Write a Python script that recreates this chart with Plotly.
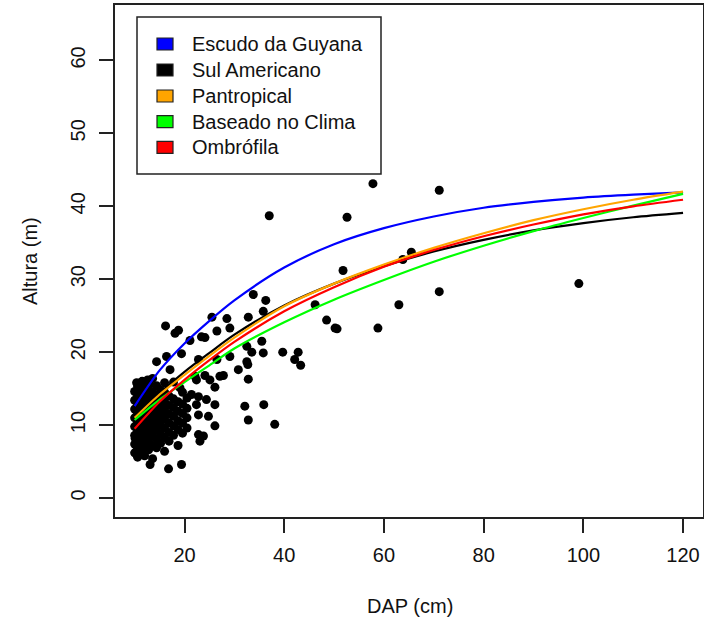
import plotly.graph_objects as go

# ---------------- data ----------------
# curve sample diameters (cm)
curve_dap = [10, 15, 20, 25, 30, 40, 50, 60, 70, 80, 90, 100, 110, 120]
escudo_guyana = [12.6, 17.5, 21.2, 24.3, 27.1, 31.6, 34.8, 37.0, 38.6, 39.8, 40.6, 41.2, 41.6, 41.9]
sul_americano = [11.2, 14.4, 17.3, 19.9, 22.4, 26.4, 29.4, 31.8, 33.8, 35.4, 36.7, 37.7, 38.5, 39.1]
pantropical = [11.0, 14.2, 16.9, 19.5, 22.0, 26.3, 29.4, 32.0, 34.3, 36.3, 38.1, 39.6, 40.9, 42.0]
baseado_clima = [10.7, 13.5, 15.9, 18.2, 20.5, 24.1, 27.2, 29.9, 32.4, 34.6, 36.6, 38.4, 40.1, 41.7]
ombrofila = [9.5, 13.2, 16.2, 18.9, 21.4, 25.6, 28.9, 31.7, 34.0, 35.9, 37.5, 38.9, 40.0, 40.9]

# observed trees: DAP (cm) and height (m)
dap_obs = [
    57.8, 71.1, 37.0, 52.6, 51.8, 65.5, 63.8, 71.1, 99.1, 36.3, 35.8, 46.2, 63.0, 48.5,
    50.2, 50.6, 58.8, 35.5, 35.8, 39.7, 42.8, 42.1, 43.3, 35.9, 38.1, 33.8,
    25.5, 28.5, 32.8, 23.4, 24.1, 26.5, 29.1, 22.8, 26.5, 29.1, 32.5, 33.5,
    32.5, 32.7, 30.8, 32.8, 22.1, 24.1, 25.1, 27.1, 27.8, 26.1, 22.8, 24.4,
    26.1, 32.1, 32.8, 22.8, 24.8, 26.1, 22.8, 23.8, 23.1,
    16.2, 18.1, 18.8, 21.1, 16.4, 19.4, 14.4, 17.1, 22.4, 11.4, 12.7,
    21.4, 22.4, 19.1, 13.1, 16.8, 19.4, 10.4, 10.1,
    10.4, 11.5, 12.6, 13.0,
    10.0, 10.0, 10.0, 10.0, 10.0, 10.0, 10.0, 10.0,
    10.6, 10.6, 10.6, 10.6, 10.6, 10.6, 10.6, 10.6, 10.6,
    11.3, 11.3, 11.3, 11.3, 11.3, 11.3, 11.3, 11.3,
    12.0, 12.0, 12.0, 12.0, 12.0, 12.0, 12.0, 12.0, 12.0,
    12.8, 12.8, 12.8, 12.8, 12.8, 12.8, 12.8, 12.8,
    13.6, 13.6, 13.6, 13.6, 13.6, 13.6, 13.6, 13.6, 13.6,
    14.4, 14.4, 14.4, 14.4, 14.4, 14.4, 14.4, 14.4,
    15.2, 15.2, 15.2, 15.2, 15.2, 15.2, 15.2,
    16.0, 16.0, 16.0, 16.0, 16.0, 16.0, 16.0, 16.0,
    16.9, 16.9, 16.9, 16.9, 16.9, 16.9,
    17.8, 17.8, 17.8, 17.8, 17.8, 17.8,
    18.7, 18.7, 18.7, 18.7, 18.7,
    19.6, 19.6, 19.6, 19.6, 19.6,
    20.5, 20.5, 20.5, 20.5,
]
altura_obs = [
    43.1, 42.2, 38.7, 38.5, 31.2, 33.7, 32.7, 28.3, 29.4, 27.1, 25.6, 26.5, 26.5, 24.4,
    23.3, 23.2, 23.3, 21.5, 19.9, 20.0, 20.0, 19.0, 18.2, 12.8, 10.1, 27.9,
    24.8, 24.6, 24.8, 22.1, 22.0, 22.9, 23.3, 19.0, 19.0, 19.4, 20.8, 20.0,
    18.7, 18.3, 17.6, 16.3, 16.7, 16.8, 16.2, 16.7, 16.8, 15.2, 13.9, 13.5,
    12.8, 12.6, 10.7, 11.4, 11.2, 9.9, 8.7, 8.5, 7.8,
    23.6, 22.6, 23.0, 21.6, 19.4, 19.8, 18.7, 17.6, 16.2, 15.5, 15.4,
    14.2, 12.8, 15.1, 4.6, 4.0, 4.6, 6.0, 8.2,
    15.8, 16.0, 16.2, 15.6,
    6.2, 7.4, 8.6, 9.8, 11.0, 12.2, 13.4, 14.6,
    5.6, 6.8, 8.0, 9.2, 10.4, 11.6, 12.8, 14.0, 15.3,
    6.3, 7.5, 8.7, 9.9, 11.1, 12.3, 13.5, 14.7,
    5.8, 7.0, 8.2, 9.5, 10.7, 11.9, 13.1, 14.3, 15.8,
    6.6, 7.8, 9.0, 10.2, 11.4, 12.6, 13.8, 14.9,
    5.4, 7.2, 8.5, 9.7, 10.9, 12.1, 13.3, 14.5, 16.4,
    6.9, 8.1, 9.3, 10.5, 11.7, 12.9, 14.1, 15.4,
    7.5, 8.8, 10.0, 11.2, 12.4, 13.6, 14.8,
    6.4, 8.3, 9.6, 10.8, 12.0, 13.2, 14.5, 15.8,
    7.8, 9.0, 10.3, 11.5, 12.7, 14.0,
    8.6, 9.9, 11.2, 12.4, 13.6, 15.9,
    7.2, 9.4, 10.6, 11.9, 13.2,
    8.9, 10.3, 11.6, 12.9, 14.5,
    9.6, 11.0, 12.3, 13.7,
]

legend_labels = ["Escudo da Guyana", "Sul Americano", "Pantropical", "Baseado no Clima", "Ombrófila"]
legend_colors = ["#0000FF", "#000000", "#FFA500", "#00FF00", "#FF0000"]
curve_values = [escudo_guyana, sul_americano, pantropical, baseado_clima, ombrofila]

x_ticks = [20, 40, 60, 80, 100, 120]
y_ticks = [0, 10, 20, 30, 40, 50, 60]

# ---------------- figure ----------------
W, H = 704, 621
L, R, T, B = 115, 1, 5, 104
PW, PH = W - L - R, H - T - B
FONT = "Liberation Sans, Arial, sans-serif"


def px(x):
    return (x - L) / PW


def py(y):
    return (H - B - y) / PH


fig = go.Figure()
fig.add_trace(go.Scatter(
    x=dap_obs, y=altura_obs, mode="markers",
    marker=dict(color="black", size=9, line=dict(width=0)),
    showlegend=False, hoverinfo="x+y",
))
for name, col, vals in zip(legend_labels, legend_colors, curve_values):
    fig.add_trace(go.Scatter(
        x=curve_dap, y=vals, mode="lines", name=name,
        line=dict(color=col, width=2.2, shape="spline", smoothing=0.8),
        showlegend=False,
    ))

axis_common = dict(
    showgrid=False, zeroline=False, showline=True, mirror=True,
    linecolor="#222", linewidth=1.5, ticks="outside", ticklen=14,
    tickwidth=1.5, tickcolor="#222",
    tickfont=dict(family=FONT, size=20, color="#111"),
)
fig.update_xaxes(range=[6.06, 124.0], tickvals=x_ticks, ticklabelstandoff=5, **axis_common)
fig.update_yaxes(range=[-2.6, 67.6], tickvals=y_ticks, tickangle=-90, ticklabelstandoff=6, **axis_common)

shapes = []
annotations = []
# legend box
shapes.append(dict(type="rect", xref="paper", yref="paper",
                   x0=px(137), x1=px(381), y0=py(174), y1=py(17),
                   line=dict(color="#222", width=1.5), fillcolor="white"))
row_y = [44, 70, 96, 121.7, 147.3]
for lab, col, ry in zip(legend_labels, legend_colors, row_y):
    shapes.append(dict(type="rect", xref="paper", yref="paper",
                       x0=px(157), x1=px(173), y0=py(ry + 6), y1=py(ry - 6),
                       line=dict(color="#222", width=1.2), fillcolor=col))
    annotations.append(dict(text=lab, xref="paper", yref="paper", x=px(190), y=py(ry),
                            xanchor="left", yanchor="middle", showarrow=False,
                            font=dict(family=FONT, size=20, color="#111")))

annotations.append(dict(text="DAP (cm)", xref="paper", yref="paper", x=px(410), y=py(606),
                        xanchor="center", yanchor="middle", showarrow=False,
                        font=dict(family=FONT, size=20, color="#111")))
annotations.append(dict(text="Altura (m)", xref="paper", yref="paper", x=px(30), y=py(261),
                        xanchor="center", yanchor="middle", showarrow=False, textangle=-90,
                        font=dict(family=FONT, size=20, color="#111")))

fig.update_layout(
    width=W, height=H,
    margin=dict(l=L, r=R, t=T, b=B, autoexpand=False),
    paper_bgcolor="white", plot_bgcolor="white",
    shapes=shapes, annotations=annotations, showlegend=False,
)

fig.write_html("out.html")
